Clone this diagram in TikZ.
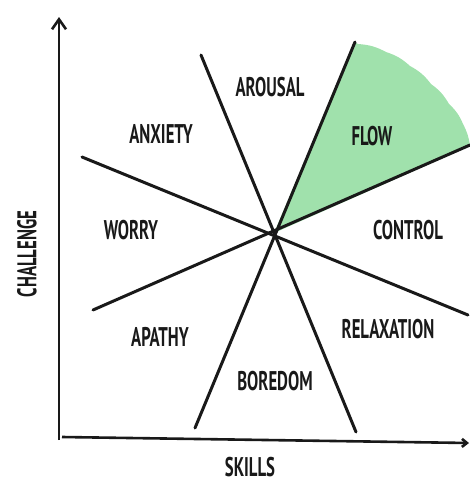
\documentclass[tikz,border=0pt]{standalone}
\usepackage{fontspec}
\setmainfont{PT Sans}
\usepackage{tikz}
\usepackage{xcolor}
\usetikzlibrary{arrows.meta,positioning,calc}
\definecolor{flowgreen}{RGB}{160,225,172}
\definecolor{inkblack}{RGB}{25,25,25}
\newcommand{\zonetext}[1]{\scalebox{0.62}[1]{#1}}

\begin{document}
\begin{tikzpicture}[x=1pt,y=-1pt,
    zone/.style={font=\fontsize{27}{27}\selectfont\bfseries,text=inkblack,inner sep=0pt},
    ray/.style={draw=inkblack,line width=3pt,line cap=round},
    axis/.style={draw=inkblack,line width=2.6pt}]
    \useasboundingbox (0,0) rectangle (470,485);

    % Centre and ray ends
    \coordinate (c) at (274,233);
    \coordinate (a1) at (201,55);
    \coordinate (a2) at (356,432);
    \coordinate (f1) at (355,42);
    \coordinate (f2) at (195,428);
    \coordinate (g1) at (470,145);
    \coordinate (g2) at (93,310);
    \coordinate (w1) at (82,157);
    \coordinate (w2) at (468,315);

    % Flow wedge
    \fill[flowgreen] (c) -- (f1) -- (358,44)
        to[bend left=12] (386,52)
        to[bend left=12] (410,66)
        to[bend left=12] (431,84)
        to[bend left=12] (449,104)
        to[bend left=12] (463,124)
        to[bend left=10] (470,146) -- cycle;

    % Rays
    \draw[ray] (a1) -- (a2);
    \draw[ray] (f1) -- (f2);
    \draw[ray] (g2) -- (g1);
    \draw[ray] (w1) -- (w2);

    % Axes
    \coordinate (o) at (59,440);
    \coordinate (ytop) at (59,17);
    \coordinate (xend) at (469,443);
    \draw[axis,-{Straight Barb[length=10pt,width=14pt]}] (o) -- (ytop);
    \draw[axis,-{Straight Barb[length=5pt,width=8pt]}] ([xshift=3pt,yshift=3pt]o) -- (xend);

    % Zones
    \node[zone] (arousal) at (270,87) {\zonetext{AROUSAL}};
    \node[zone] (anxiety) at (161,134) {\zonetext{ANXIETY}};
    \node[zone] (flow) at (372,136) {\zonetext{FLOW}};
    \node[zone] (worry) at (131,230) {\zonetext{WORRY}};
    \node[zone] (control) at (408,230) {\zonetext{CONTROL}};
    \node[zone] (apathy) at (160,337) {\zonetext{APATHY}};
    \node[zone] (relax) at (388,329) {\zonetext{RELAXATION}};
    \node[zone] (boredom) at (275,381) {\zonetext{BOREDOM}};

    % Axis labels
    \node[zone,rotate=90] (challenge) at (27,254) {\zonetext{CHALLENGE}};
    \node[zone] (skills) at (250,467) {\zonetext{SKILLS}};
\end{tikzpicture}
\end{document}
